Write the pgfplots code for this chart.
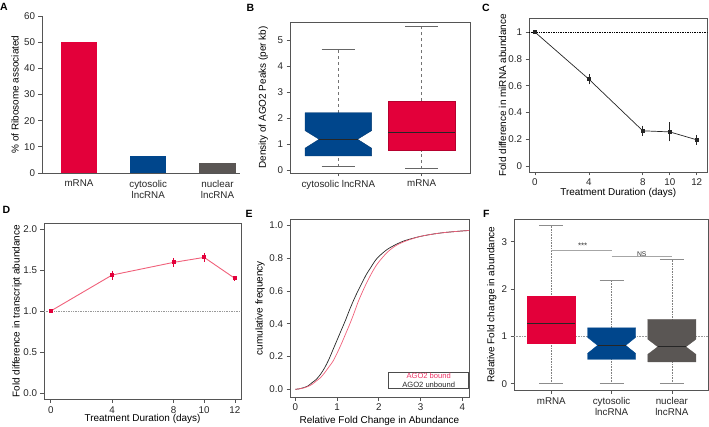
\documentclass[border=0pt]{standalone}
\usepackage{fontspec}
\setmainfont{Liberation Sans}
\usepackage{pgfplots}
\pgfplotsset{compat=1.18}
\definecolor{cred}{HTML}{E3003A}
\definecolor{cblue}{HTML}{00468C}
\definecolor{cgrey}{HTML}{5A5654}
\definecolor{cpink}{HTML}{F0607A}
\definecolor{cpinktxt}{HTML}{EE3366}
\definecolor{framec}{HTML}{555555}
\newcommand\fs{\fontsize{9.8bp}{11.2bp}\selectfont}
\newcommand\pl{\fontsize{10.5bp}{11bp}\selectfont\bfseries}
\pgfplotsset{
  rstyle/.style={
    scale only axis, anchor=south west,
    axis line style={draw=framec, line width=0.7bp},
    tick style={draw=framec, line width=0.7bp},
    tick align=outside, major tick length=3.5bp,
    tick pos=left,
    ticklabel style={font=\fs, text=black!85},
    label style={font=\fs, text=black!85},
    /pgf/number format/assume math mode=true,
  },
  ylabpos/.style={every axis y label/.style={at={(axis description cs:#1,0.5)}, rotate=90, anchor=center}},
  xlabpos/.style={every axis x label/.style={at={(axis description cs:0.5,#1)}, anchor=center}},
}
\begin{document}
\begin{tikzpicture}
\useasboundingbox (0,0) rectangle (709bp,427bp);

% ---------------- A ----------------
\begin{axis}[rstyle, at={(42bp,254bp)}, width=198bp, height=157bp,
  xmin=0.466, xmax=3.325, ymin=0, ymax=60,
  axis x line*=bottom, axis y line*=left, axis line style={-},
  ytick={0,10,20,30,40,50,60},
  xtick={1,2,3}, xticklabels={mRNA, cytosolic\\lncRNA, nuclear\\lncRNA},
  xticklabel style={align=center},
  xtick style={draw=none},
  ylabpos=-0.136,
  ylabel={\% of Ribosome associated}]
\addplot[ybar, bar width=36.5bp, fill=cred, draw=none] coordinates {(1,50.2)};
\addplot[ybar, bar width=36.5bp, fill=cblue, draw=none] coordinates {(2,6.6)};
\addplot[ybar, bar width=36.5bp, fill=cgrey, draw=none] coordinates {(3,4.0)};
\end{axis}

% ---------------- B ----------------
\begin{axis}[rstyle, at={(290bp,254bp)}, width=180bp, height=151bp,
  xmin=0.42, xmax=2.58, ymin=-0.116, ymax=5.71,
  xtick={1,2}, xticklabels={cytosolic lncRNA, mRNA},
  ytick={0,1,2,3,4,5},
  ylabpos=-0.148,
  ylabel={Density of AGO2 Peaks (per kb)}]
\addplot[draw=black!55, dashed, line width=0.9bp] coordinates {(1,0.13) (1,0.54)};
\addplot[draw=black!55, dashed, line width=0.9bp] coordinates {(1,2.21) (1,4.66)};
\addplot[draw=black!55, dashed, line width=0.9bp] coordinates {(2,0.05) (2,0.745)};
\addplot[draw=black!55, dashed, line width=0.9bp] coordinates {(2,2.66) (2,5.52)};
\addplot[draw=black!60, line width=0.9bp] coordinates {(0.8,0.13) (1.2,0.13)};
\addplot[draw=black!60, line width=0.9bp] coordinates {(0.8,4.66) (1.2,4.66)};
\addplot[draw=black!60, line width=0.9bp] coordinates {(1.8,0.05) (2.2,0.05)};
\addplot[draw=black!60, line width=0.9bp] coordinates {(1.8,5.52) (2.2,5.52)};
\addplot[fill=cblue, draw=cblue!80!black, line width=0.4bp] coordinates {(0.6,0.54) (1.4,0.54) (1.4,0.84) (1.23,1.185) (1.4,1.52) (1.4,2.21) (0.6,2.21) (0.6,1.52) (0.77,1.185) (0.6,0.84) (0.6,0.54)};
\addplot[draw=black!85, line width=1bp] coordinates {(0.77,1.185) (1.23,1.185)};
\addplot[fill=cred, draw=cred!80!black, line width=0.4bp] coordinates {(1.6,0.745) (2.4,0.745) (2.4,2.66) (1.6,2.66) (1.6,0.745)};
\addplot[draw=black!85, line width=1bp] coordinates {(1.6,1.455) (2.4,1.455)};
\end{axis}

% ---------------- C ----------------
\begin{axis}[rstyle, at={(529bp,255bp)}, width=178.5bp, height=153.3bp,
  xmin=-0.44, xmax=12.8, ymin=-0.043, ymax=1.10,
  xtick={0,4,8,10,12}, ytick={0,0.2,0.4,0.6,0.8,1},
  yticklabels={0,0.2,0.4,0.6,0.8,1},
  ylabpos=-0.148, xlabpos=-0.139,
  xlabel={Treatment Duration (days)}, ylabel={Fold difference in miRNA abundance}]
\addplot[black, densely dotted, line width=0.7bp] coordinates {(-0.44,1) (12.8,1)};
\addplot[black!85, line width=0.7bp, mark=square*, mark size=1.5bp, mark options={solid},
  error bars/.cd, y dir=both, y explicit, error bar style={line width=0.7bp},
  error mark options={mark size=1.2bp, line width=0.7bp}]
  coordinates {(0,1.0) +- (0,0.004) (4,0.649) +- (0,0.03) (8,0.264) +- (0,0.03) (10,0.256) +- (0,0.062) (12,0.197) +- (0,0.028)};
\end{axis}

% ---------------- D ----------------
\begin{axis}[rstyle, at={(44bp,27.7bp)}, width=197bp, height=176bp,
  xmin=-0.44, xmax=12.4, ymin=-0.077, ymax=2.07,
  xtick={0,4,8,10,12}, ytick={0,0.5,1,1.5,2},
  yticklabels={0.0,0.5,1.0,1.5,2.0},
  ylabpos=-0.137, xlabpos=-0.112,
  xlabel={Treatment Duration (days)}, ylabel={Fold difference in transcript abundance}]
\addplot[black!40, densely dotted, line width=0.7bp] coordinates {(-0.44,1) (12.4,1)};
\addplot[cpink, line width=0.9bp, mark=square*, mark size=1.5bp, mark options={solid, fill=cred, draw=cred},
  error bars/.cd, y dir=both, y explicit, error bar style={line width=0.8bp, draw=cred},
  error mark options={mark size=1.2bp, line width=0.8bp, draw=cred}]
  coordinates {(0,1.0) +- (0,0.006) (4,1.439) +- (0,0.04) (8,1.593) +- (0,0.04) (10,1.654) +- (0,0.04) (12,1.398) +- (0,0.012)};
\end{axis}

% ---------------- E ----------------
\begin{axis}[rstyle, at={(290bp,30bp)}, width=179bp, height=177.7bp,
  xmin=-0.127, xmax=4.16, ymin=-0.047, ymax=1.037,
  xtick={0,1,2,3,4}, ytick={0,0.2,0.4,0.6,0.8,1},
  yticklabels={0.0,0.2,0.4,0.6,0.8,1.0},
  ylabpos=-0.168, xlabpos=-0.133,
  xlabel={Relative Fold Change in Abundance}, ylabel={cumulative frequency}]
\addplot[black!85, line width=0.7bp, smooth] coordinates {
 (0,0) (0.1,0.003) (0.2,0.01) (0.3,0.02) (0.4,0.04) (0.5,0.06) (0.6,0.09) (0.7,0.13)
 (0.8,0.18) (0.9,0.24) (1.0,0.30) (1.1,0.36) (1.2,0.42) (1.3,0.485) (1.4,0.545) (1.5,0.60)
 (1.6,0.65) (1.7,0.70) (1.8,0.74) (1.9,0.78) (2.0,0.81) (2.2,0.853) (2.4,0.882) (2.6,0.905)
 (2.8,0.92) (3.0,0.933) (3.3,0.947) (3.6,0.957) (4.0,0.966) (4.2,0.969)};
\addplot[cpink, line width=0.7bp, smooth] coordinates {
 (0,0) (0.1,0.003) (0.2,0.008) (0.3,0.017) (0.4,0.03) (0.5,0.05) (0.6,0.07) (0.7,0.10)
 (0.8,0.135) (0.9,0.17) (1.0,0.22) (1.1,0.275) (1.2,0.335) (1.3,0.395) (1.4,0.46) (1.5,0.53)
 (1.6,0.59) (1.7,0.645) (1.8,0.695) (1.9,0.74) (2.0,0.777) (2.2,0.835) (2.4,0.875) (2.6,0.90)
 (2.8,0.918) (3.0,0.933) (3.3,0.947) (3.6,0.957) (4.0,0.966) (4.2,0.969)};
\node[draw=black!70, line width=0.6bp, anchor=south east, align=center, minimum width=80bp,
  inner sep=1.2bp, font=\fontsize{7.6bp}{8.6bp}\selectfont] at (rel axis cs:1,0.045)
  {\textcolor{cpinktxt}{AGO2 bound}\\\textcolor{black!85}{AGO2 unbound}};
\end{axis}

% ---------------- F ----------------
\begin{axis}[rstyle, at={(514bp,36.7bp)}, width=194bp, height=171bp,
  xmin=0.38, xmax=3.6, ymin=-0.14, ymax=3.475,
  xtick={1,2,3}, xticklabels={mRNA, cytosolic\\lncRNA, nuclear\\lncRNA},
  xticklabel style={align=center},
  ytick={0,1,2,3},
  ylabpos=-0.115,
  ylabel={Relative Fold change in abundance}]
\addplot[black!40, densely dotted, line width=0.6bp] coordinates {(0.38,1) (3.6,1)};
% whiskers
\addplot[black!50, densely dotted, line width=0.6bp] coordinates {(1,0) (1,0.852)};
\addplot[black!50, densely dotted, line width=0.6bp] coordinates {(1,1.845) (1,3.345)};
\addplot[black!50, densely dotted, line width=0.6bp] coordinates {(2,0) (2,0.515)};
\addplot[black!50, densely dotted, line width=0.6bp] coordinates {(2,1.18) (2,2.18)};
\addplot[black!50, densely dotted, line width=0.6bp] coordinates {(3,0) (3,0.46)};
\addplot[black!50, densely dotted, line width=0.6bp] coordinates {(3,1.36) (3,2.63)};
% caps
\addplot[black!45, line width=0.7bp] coordinates {(0.8,0) (1.2,0)};
\addplot[black!45, line width=0.7bp] coordinates {(0.8,3.345) (1.2,3.345)};
\addplot[black!45, line width=0.7bp] coordinates {(1.8,0) (2.2,0)};
\addplot[black!45, line width=0.7bp] coordinates {(1.8,2.18) (2.2,2.18)};
\addplot[black!45, line width=0.7bp] coordinates {(2.8,0) (3.2,0)};
\addplot[black!45, line width=0.7bp] coordinates {(2.8,2.63) (3.2,2.63)};
% boxes
\addplot[fill=cred, draw=cred, line width=0.3bp] coordinates {(0.6,0.852) (1.4,0.852) (1.4,1.845) (0.6,1.845) (0.6,0.852)};
\addplot[black!85, line width=1bp] coordinates {(0.6,1.27) (1.4,1.27)};
\addplot[fill=cblue, draw=cblue, line width=0.3bp] coordinates {(1.6,0.515) (2.4,0.515) (2.4,0.64) (2.234,0.81) (2.4,0.98) (2.4,1.18) (1.6,1.18) (1.6,0.98) (1.766,0.81) (1.6,0.64) (1.6,0.515)};
\addplot[black!85, line width=1bp] coordinates {(1.766,0.81) (2.234,0.81)};
\addplot[fill=cgrey, draw=cgrey, line width=0.3bp] coordinates {(2.6,0.46) (3.4,0.46) (3.4,0.62) (3.234,0.78) (3.4,0.94) (3.4,1.36) (2.6,1.36) (2.6,0.94) (2.766,0.78) (2.6,0.62) (2.6,0.46)};
\addplot[black!85, line width=1bp] coordinates {(2.766,0.78) (3.234,0.78)};
% significance
\addplot[black!35, line width=1.1bp] coordinates {(1,2.806) (2,2.806)};
\addplot[black!35, line width=1.1bp] coordinates {(2,2.685) (3,2.685)};
\node[font=\fontsize{8bp}{8bp}\selectfont, text=black!80] at (axis cs:1.52,2.92) {***};
\node[anchor=south, inner sep=0.4bp, font=\fontsize{6.8bp}{7bp}\selectfont, text=black!80] at (axis cs:2.5,2.685) {NS};
\end{axis}

% panel letters
\node[anchor=north west, inner sep=0, font=\pl] at (0bp,423.5bp) {A};
\node[anchor=north west, inner sep=0, font=\pl] at (246.5bp,423bp) {B};
\node[anchor=north west, inner sep=0, font=\pl] at (482bp,423bp) {C};
\node[anchor=north west, inner sep=0, font=\pl] at (2.5bp,221.3bp) {D};
\node[anchor=north west, inner sep=0, font=\pl] at (245.5bp,216.5bp) {E};
\node[anchor=north west, inner sep=0, font=\pl] at (483bp,216.5bp) {F};
\end{tikzpicture}
\end{document}
